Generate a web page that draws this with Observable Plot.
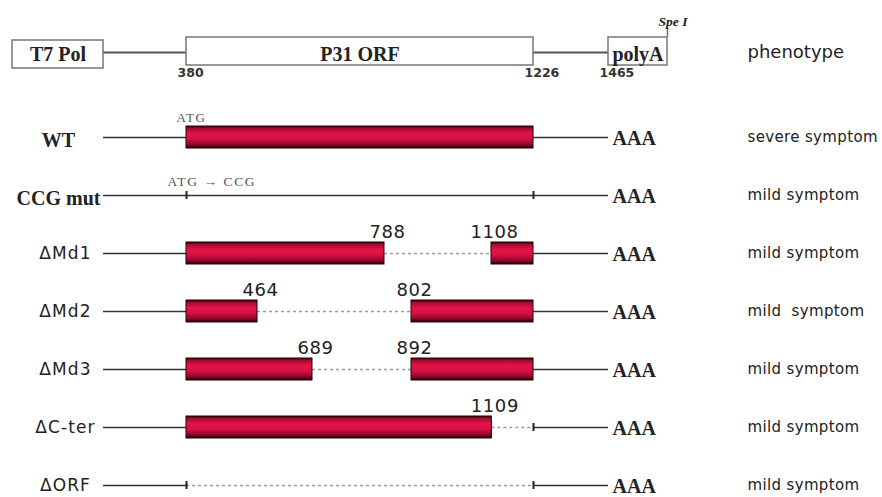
<!DOCTYPE html>
<html><head><meta charset="utf-8">
<script src="https://cdn.jsdelivr.net/npm/d3@7"></script>
<script src="https://cdn.jsdelivr.net/npm/@observablehq/plot@0.6"></script>
<style>
html,body{margin:0;padding:0;background:#fff;overflow:hidden;width:882px;height:497px}
#chart svg{display:block;background:#fff}
</style></head><body><div id="chart"></div>
<script>
// ---- data (nucleotide positions) ----
const vectorParts = ["T7 Pol", "P31 ORF", "polyA"];
const partStart = [-300, 380, 1465];
const partEnd = [0, 1226, 1600];
const linkStart = [0, 1226];
const linkEnd = [380, 1465];
const siteLabels = ["380", "1226", "1465"];
const sitePos = [380, 1226, 1465];
const speISite = 1600;

const constructs = ["WT", "CCG mut", "ΔMd1", "ΔMd2", "ΔMd3", "ΔC-ter", "ΔORF"];
const phenotypes = ["severe symptom", "mild symptom", "mild symptom", "mild  symptom", "mild symptom", "mild symptom", "mild symptom"];
const transcriptStart = 0, orfStart = 380, orfEnd = 1226, polyAStart = 1465;

const codingConstruct = ["WT", "ΔMd1", "ΔMd1", "ΔMd2", "ΔMd2", "ΔMd3", "ΔMd3", "ΔC-ter"];
const codingStart = [380, 380, 1108, 380, 802, 380, 892, 380];
const codingEnd = [1226, 788, 1226, 464, 1226, 689, 1226, 1109];

const deletedConstruct = ["ΔMd1", "ΔMd2", "ΔMd3", "ΔC-ter", "ΔORF"];
const deletedStart = [788, 464, 689, 1109, 380];
const deletedEnd = [1108, 802, 892, 1226, 1226];

const untranslatedConstruct = ["CCG mut"];
const markerConstruct = ["CCG mut", "CCG mut", "ΔC-ter", "ΔORF", "ΔORF"];
const markerPos = [380, 1226, 1226, 380, 1226];

const breakConstruct = ["ΔMd1", "ΔMd1", "ΔMd2", "ΔMd2", "ΔMd3", "ΔMd3", "ΔC-ter"];
const breakPos = [788, 1108, 464, 802, 689, 892, 1109];

const atgConstruct = ["WT", "CCG mut"];
const atgText = ["ATG", "ATG → CCG"];

// ---- schematic (not to scale) map: nucleotide breakpoints -> drawing positions ----
const mapBreaks = [-300, 0, 380, 464, 689, 788, 802, 892, 1108, 1226, 1465, 1600];
const mapPixels = [12, 103, 186, 257, 312, 384, 411, 411, 491, 533, 608, 667];
const xMap = {type: "linear", domain: mapBreaks, range: mapPixels, axis: null};
const xs = Plot.scale({x: {type: "linear", domain: mapBreaks, range: mapPixels}});
const mid = (a, b) => xs.invert((xs.apply(a) + xs.apply(b)) / 2);

// ---- tables ----
const parts = vectorParts.map((name, i) => ({name, start: partStart[i], end: partEnd[i], row: "vector"}));
const links = linkStart.map((s, i) => ({start: s, end: linkEnd[i], row: "vector"}));
const sites = siteLabels.map((label, i) => ({label, pos: sitePos[i], row: "vector"}));

const solid = [];
constructs.forEach(c => {
  solid.push({construct: c, start: transcriptStart, end: orfStart});
  solid.push({construct: c, start: orfEnd, end: polyAStart});
});
untranslatedConstruct.forEach(c => solid.push({construct: c, start: orfStart, end: orfEnd}));
const coding = codingConstruct.map((c, i) => ({construct: c, start: codingStart[i], end: codingEnd[i]}));
const deleted = deletedConstruct.map((c, i) => ({construct: c, start: deletedStart[i], end: deletedEnd[i]}));
const markers = markerConstruct.map((c, i) => ({construct: c, pos: markerPos[i]}));
const breaks = breakConstruct.map((c, i) => ({construct: c, pos: breakPos[i]}));
const rows = constructs.map((c, i) => ({construct: c, phenotype: phenotypes[i]}));
const atgRows = atgConstruct.map((c, i) => ({construct: c, label: atgText[i]}));
const serifRows = ["WT", "CCG mut"];

const serif = "'Liberation Serif', 'Times New Roman', serif";
const sans = "'DejaVu Sans', Verdana, sans-serif";

// ---- header plot ----
const header = Plot.plot({
  width: 882, height: 95,
  marginTop: 37, marginBottom: 30, marginLeft: 0, marginRight: 0,
  x: xMap,
  y: {type: "band", domain: ["vector"], padding: 0, axis: null},
  marks: [
    Plot.ruleY(links, {y: "row", x1: "start", x2: "end", stroke: "#555", strokeWidth: 2.2, dy: 1}),
    Plot.barX(parts.filter(d => d.name !== "T7 Pol"), {y: "row", x1: "start", x2: "end", fill: "white", stroke: "#777", strokeWidth: 1.5}),
    Plot.barX(parts.filter(d => d.name === "T7 Pol"), {y: "row", x1: "start", x2: "end", fill: "white", stroke: "#777", strokeWidth: 1.5, insetTop: 3, insetBottom: -3}),
    Plot.text(parts, {x: d => mid(d.start, d.end), y: "row", text: "name", fontFamily: serif, fontWeight: "bold", fontSize: 20, fill: "#222", dy: 3}),
    Plot.text(sites, {x: "pos", y: "row", text: "label", textAnchor: "start", dx: -9, dy: 21, fontFamily: sans, fontWeight: "bold", fontSize: 12.5, fill: "#333"}),
    Plot.tickX([speISite], {x: d => d, y: () => "vector", stroke: "#777", strokeWidth: 1.5, insetTop: -9, insetBottom: 28}),
    Plot.text([speISite], {x: d => d, y: () => "vector", text: () => "Spe I", textAnchor: "start", dx: -9, dy: -30, fontFamily: serif, fontStyle: "italic", fontWeight: "bold", fontSize: 13.5, fill: "#222"}),
    Plot.text(["phenotype"], {y: () => "vector", frameAnchor: "left", dx: 747, textAnchor: "start", text: d => d, fontFamily: sans, fontSize: 18, fill: "#222", dy: 1})
  ]
});

// ---- constructs plot ----
const body = Plot.plot({
  width: 882, height: 403,
  marginTop: 0, marginBottom: 0, marginLeft: 0, marginRight: 0,
  x: xMap,
  y: {type: "band", domain: constructs, range: [28, 404], paddingInner: 0.627, paddingOuter: 0, axis: null},
  marks: [
    Plot.ruleY(solid, {y: "construct", x1: "start", x2: "end", stroke: "#333", strokeWidth: 1.6}),
    Plot.ruleY(deleted, {y: "construct", x1: "start", x2: "end", stroke: "#9a9a9a", strokeWidth: 1.3, strokeDasharray: "3,3"}),
    Plot.barX(coding, {y: "construct", x1: "start", x2: "end", fill: "url(#orfGrad)", stroke: "#2a0008", strokeWidth: 1}),
    Plot.tickX(markers, {x: "pos", y: "construct", stroke: "#222", strokeWidth: 2, insetTop: 7, insetBottom: 7}),
    Plot.text(rows.filter(d => !serifRows.includes(d.construct)), {y: "construct", text: "construct", frameAnchor: "left", dx: 65, textAnchor: "middle",
      fontFamily: sans, fontSize: 17, fill: "#222"}),
    Plot.text(rows.filter(d => serifRows.includes(d.construct)), {y: "construct", text: "construct", frameAnchor: "left", dx: 58, textAnchor: "middle",
      fontFamily: serif, fontWeight: "bold", fontSize: 20, fill: "#222", dy: 3}),
    Plot.text(rows, {y: "construct", x: () => polyAStart, text: () => "AAA", textAnchor: "start", dx: 4, dy: 1,
      fontFamily: serif, fontWeight: "bold", fontSize: 20, fill: "#222"}),
    Plot.text(rows, {y: "construct", text: "phenotype", frameAnchor: "left", dx: 747, textAnchor: "start",
      fontFamily: sans, fontSize: 15, fill: "#222"}),
    Plot.text(breaks, {x: "pos", y: "construct", text: d => String(d.pos), dx: 3, dy: -21,
      fontFamily: sans, fontSize: 18, fill: "#222"}),
    Plot.text(atgRows.slice(0, 1),
      {x: () => orfStart, y: "construct", text: "label", dx: 5, dy: -20, fontFamily: serif, fontSize: 13, fill: "#555"}),
    Plot.text(atgRows.slice(1),
      {x: () => orfStart, y: "construct", text: "label", textAnchor: "start", dx: -19, dy: -14, fontFamily: serif, fontSize: 13.5, fill: "#555"})
  ]
});

const defs = d3.select(body).insert("defs", ":first-child");
const grad = defs.append("linearGradient").attr("id", "orfGrad").attr("x1", 0).attr("y1", 0).attr("x2", 0).attr("y2", 1);
[["0%", "#2a0008"], ["12%", "#a80c30"], ["35%", "#e3144a"], ["60%", "#d81042"], ["85%", "#8c0826"], ["100%", "#1f0006"]]
  .forEach(([o, c]) => grad.append("stop").attr("offset", o).attr("stop-color", c));

// letter spacing to mimic the wider original typefaces
const sansNames = constructs.filter(c => !serifRows.includes(c));
const breakNames = breakPos.map(String);
d3.select(body).selectAll("text").each(function () {
  const t = this.textContent;
  let ls = null;
  if (sansNames.includes(t)) ls = "1.1px";
  else if (breakNames.includes(t)) ls = "0.6px";
  else if (phenotypes.includes(t)) ls = "0.35px";
  else if (atgText.includes(t)) ls = "1.6px";
  if (ls) this.style.letterSpacing = ls;
});

document.getElementById("chart").append(header, body);
</script></body></html>
